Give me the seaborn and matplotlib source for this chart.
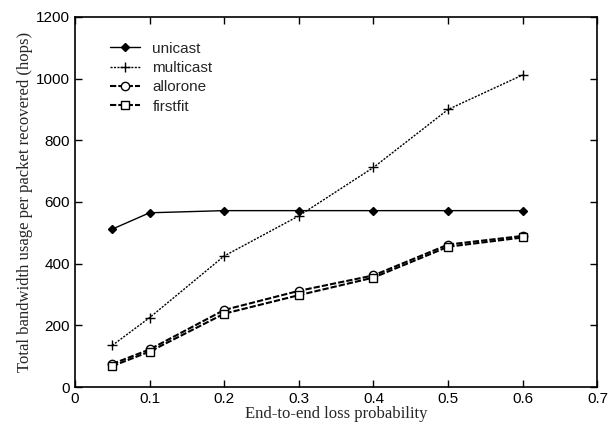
import matplotlib
matplotlib.use("Agg")
import matplotlib.pyplot as plt
import seaborn as sns
import pandas as pd

loss = [0.05, 0.1, 0.2, 0.3, 0.4, 0.5, 0.6]
unicast = [512, 565, 572, 572, 572, 572, 572]
multicast = [135, 225, 425, 555, 712, 900, 1012]
allorone = [75, 122, 250, 312, 362, 462, 490]
firstfit = [68, 115, 238, 298, 355, 455, 485]

sns.set_style("ticks")
fig = plt.figure(figsize=(6.09, 4.33), dpi=100)
ax = fig.add_axes([0.123, 0.106, 0.858, 0.855])

series = [
    ("unicast", unicast, dict(marker="D", markersize=4, ls="-", lw=1.0, mfc="black")),
    ("multicast", multicast, dict(marker="+", markersize=7, ls=(0, (1.5, 1)), lw=1.0)),
    ("allorone", allorone, dict(marker="o", markersize=6, ls=(0, (3, 1)), lw=1.5, mfc="white")),
    ("firstfit", firstfit, dict(marker="s", markersize=6, ls=(0, (3, 1)), lw=1.5, mfc="white")),
]
for name, vals, st in series:
    df = pd.DataFrame({"x": loss, "y": vals})
    sns.lineplot(data=df, x="x", y="y", ax=ax, color="black", label=name,
                 mec="black", mew=1.0, **st)

ax.set_xlim(0, 0.7)
ax.set_ylim(0, 1200)
ax.set_xticks([0, 0.1, 0.2, 0.3, 0.4, 0.5, 0.6, 0.7])
ax.set_xticklabels(["0", "0.1", "0.2", "0.3", "0.4", "0.5", "0.6", "0.7"])
ax.set_yticks(range(0, 1201, 200))
ax.tick_params(direction="in", top=True, right=True, length=5, width=1,
               labelsize=11, colors="black")
for lab in ax.get_xticklabels() + ax.get_yticklabels():
    lab.set_family("Liberation Sans")
for s in ax.spines.values():
    s.set_linewidth(1.2)
    s.set_color("black")

ax.set_xlabel("End-to-end loss probability", family="Liberation Serif", fontsize=12, labelpad=0)
ax.set_ylabel("Total bandwidth usage per packet recovered (hops)", family="Liberation Serif",
              fontsize=12, labelpad=2)
leg = ax.legend(loc="upper left", frameon=False, bbox_to_anchor=(0.04, 0.97),
                prop={"family": "Liberation Sans", "size": 11}, handlelength=2.0,
                labelspacing=0.35)
fig.savefig("out.png", dpi=100)
